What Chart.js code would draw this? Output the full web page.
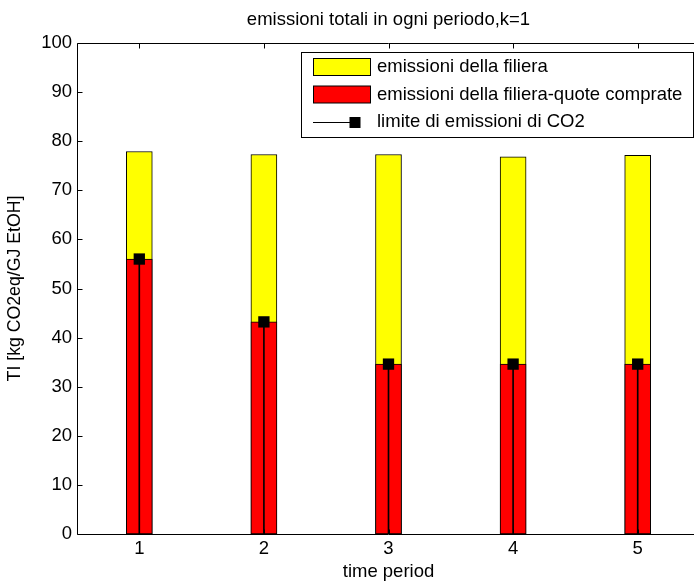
<!DOCTYPE html>
<html>
<head>
<meta charset="utf-8">
<script src="https://cdn.jsdelivr.net/npm/chart.js@4/dist/chart.umd.min.js"></script>
<style>
  html, body { margin: 0; padding: 0; background: #fff; overflow: hidden; }
  #wrap { width: 694px; height: 583px; overflow: hidden; position: relative; background: #fff; }
  canvas { display: block; }
</style>
</head>
<body>
<div id="wrap"><canvas id="c" width="720" height="583"></canvas></div>
<script>
// periods on the x axis
const periods = ['1', '2', '3', '4', '5'];
// total supply-chain emissions per period
const emissioniFiliera = [77.9, 77.3, 77.3, 76.8, 77.1];
// supply-chain emissions minus purchased allowances
const emissioniNette = [56.0, 43.2, 34.6, 34.6, 34.6];
// CO2 emission cap per period
const limiteCO2 = [56.0, 43.2, 34.6, 34.6, 34.6];
// y axis tick values
const yTicks = [0, 10, 20, 30, 40, 50, 60, 70, 80, 90, 100];

const FONT = "'Liberation Sans', Arial, Helvetica, sans-serif";
const FS = 18.5;     // horizontal text
const FS_V = 17.7;   // rotated y-axis title

// axes box with inward tick marks, drawn over the bars
const frame = {
  id: 'frame',
  afterDatasetsDraw(chart) {
    const { ctx, chartArea: a, scales: { x, y } } = chart;
    ctx.save();
    ctx.strokeStyle = '#000';
    ctx.lineWidth = 1;
    const L = Math.round(a.left) + 0.5, R = Math.round(a.right) - 0.5;
    const T = Math.round(a.top) + 0.5, B = Math.round(a.bottom) + 0.5;
    ctx.beginPath();
    ctx.moveTo(L, T); ctx.lineTo(R, T); ctx.lineTo(R, B); ctx.lineTo(L, B); ctx.closePath();
    const tl = 5;
    yTicks.forEach(v => {
      const py = Math.round(y.getPixelForValue(v)) + 0.5;
      ctx.moveTo(L, py); ctx.lineTo(L + tl, py);
      ctx.moveTo(R, py); ctx.lineTo(R - tl, py);
    });
    periods.forEach((p, i) => {
      const px = Math.round(x.getPixelForValue(i)) + 0.5;
      ctx.moveTo(px, T); ctx.lineTo(px, T + tl);
      ctx.moveTo(px, B); ctx.lineTo(px, B - tl);
    });
    ctx.stroke();
    ctx.restore();
  }
};

// boxed legend in the upper right of the axes: bars first, then the cap line
const boxLegend = {
  id: 'boxLegend',
  afterDraw(chart) {
    const { ctx } = chart;
    const ds = chart.data.datasets.filter(d => !d.hideInLegend).reverse();
    const bx = 301.5, by = 52.5, bw = 392, bh = 85;
    ctx.save();
    ctx.fillStyle = '#fff';
    ctx.fillRect(bx, by, bw, bh);
    ctx.strokeStyle = '#000';
    ctx.lineWidth = 1;
    ctx.strokeRect(bx, by, bw, bh);
    ctx.font = FS + 'px ' + FONT;
    ctx.textBaseline = 'middle';
    ctx.textAlign = 'left';
    const rows = [67, 94.5, 122];
    ds.forEach((d, i) => {
      const cy = rows[i];
      if (d.type === 'line') {
        ctx.beginPath();
        ctx.moveTo(313, Math.round(cy) + 0.5);
        ctx.lineTo(360, Math.round(cy) + 0.5);
        ctx.stroke();
        ctx.fillStyle = '#000';
        ctx.fillRect(349.5, Math.round(cy) - 5, 11, 11);
      } else {
        ctx.fillStyle = d.backgroundColor;
        ctx.fillRect(313.5, cy - 8.5, 57, 17);
        ctx.strokeRect(313.5, cy - 8.5, 57, 17);
      }
      ctx.fillStyle = '#000';
      ctx.fillText(d.label, 377, cy);
    });
    ctx.restore();
  }
};

new Chart(document.getElementById('c'), {
  data: {
    labels: periods,
    datasets: [
      {
        type: 'line',
        label: 'limite di emissioni di CO2',
        data: limiteCO2,
        showLine: false,
        pointStyle: 'rect',
        pointRadius: 8,
        pointHoverRadius: 8,
        pointBackgroundColor: '#000',
        pointBorderColor: '#000',
        pointBorderWidth: 0,
        order: 1
      },
      {
        type: 'bar',
        label: 'stem',
        hideInLegend: true,
        data: limiteCO2,
        backgroundColor: '#000',
        borderWidth: 0,
        barThickness: 1,
        grouped: false,
        order: 2
      },
      {
        type: 'bar',
        label: 'emissioni della filiera-quote comprate',
        data: emissioniNette,
        backgroundColor: '#ff0000',
        borderColor: '#000',
        borderWidth: 1,
        borderSkipped: false,
        barThickness: 26,
        grouped: false,
        order: 3
      },
      {
        type: 'bar',
        label: 'emissioni della filiera',
        data: emissioniFiliera,
        backgroundColor: '#ffff00',
        borderColor: '#000',
        borderWidth: 1,
        borderSkipped: false,
        barThickness: 26,
        grouped: false,
        order: 4
      }
    ]
  },
  options: {
    responsive: false,
    animation: false,
    devicePixelRatio: 1,
    layout: { padding: { left: 0, right: 20, top: 0, bottom: 0 } },
    plugins: {
      legend: { display: false },
      tooltip: { enabled: false },
      title: {
        display: true,
        fullSize: false,
        text: 'emissioni totali in ogni periodo,k=1',
        color: '#000',
        font: { family: FONT, size: FS, weight: 'normal', lineHeight: 1.2 },
        padding: { top: 9, bottom: 11.8 }
      }
    },
    scales: {
      x: {
        type: 'category',
        offset: true,
        grid: { display: false, drawTicks: false },
        border: { display: false },
        ticks: { color: '#000', padding: 4, font: { family: FONT, size: FS }, maxRotation: 0 },
        title: {
          display: true, text: 'time period', color: '#000',
          font: { family: FONT, size: FS, lineHeight: 1.2 },
          padding: { top: 0, bottom: 0 }
        },
        afterFit(s) { s.height = 49; }
      },
      y: {
        type: 'linear',
        min: 0, max: 100,
        grid: { display: false, drawTicks: false },
        border: { display: false },
        afterBuildTicks(s) { s.ticks = yTicks.map(v => ({ value: v })); },
        ticks: { color: '#000', padding: 5, font: { family: FONT, size: FS } },
        title: {
          display: true, text: 'TI [kg CO2eq/GJ EtOH]', color: '#000',
          font: { family: FONT, size: FS_V, lineHeight: 1.2 },
          padding: { top: 4.4, bottom: 0 }
        },
        afterFit(s) { s.width = 77; }
      }
    }
  },
  plugins: [frame, boxLegend]
});
</script>
</body>
</html>
